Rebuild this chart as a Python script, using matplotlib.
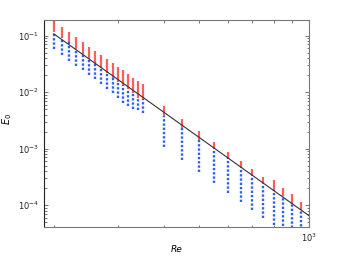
import matplotlib
matplotlib.use("Agg")
import matplotlib.pyplot as plt
from matplotlib.ticker import LogLocator, NullFormatter

# Reynolds numbers of each column of runs
re_vals = [200, 210, 220, 230, 240, 250, 260, 270, 280, 290, 300, 310, 320, 330, 340, 350,
           400, 450, 500, 550, 600, 650, 700, 750, 800, 850, 900, 950]

# top of red range, top of blue range, bottom of blue range
red_top = [0.183, 0.145, 0.118, 0.094, 0.078, 0.064, 0.054, 0.045, 0.0385, 0.0327, 0.0281, 0.0245,
           0.0208, 0.0182, 0.0156, 0.0137, 0.0058, 0.0034, 0.00206, 0.00129, 0.00089, 0.00061,
           0.00043, 0.00031, 0.000274, 0.000205, 0.000157, 0.000116]
blue_top = [0.115, 0.090, 0.076, 0.058, 0.047, 0.0385, 0.0313, 0.0266, 0.0217, 0.0182, 0.0152, 0.0133,
            0.0113, 0.0096, 0.0080, 0.0075, 0.0038, 0.00234, 0.00142, 0.00098, 0.00067, 0.00046,
            0.00033, 0.000237, 0.000189, 0.000144, 0.000105, 0.000082]
blue_bot = [0.058, 0.046, 0.036, 0.029, 0.0245, 0.020, 0.017, 0.0138, 0.0116, 0.0096, 0.0080, 0.0065,
            0.0057, 0.0050, 0.0048, 0.0043, 0.00109, 0.00062, 0.00039, 0.000247, 0.000164, 0.000113,
            0.0000824, 0.0000587, 0.0000447, 0.0000434, 0.00004, 0.00003]

# fitted power law, end points
fit_re = [200, 1000]
fit_e = [0.108, 6.5e-5]

fig = plt.figure(figsize=(3.42, 2.57), dpi=100)
ax = fig.add_axes([0.1287, 0.1167, 0.7748, 0.8055])

ax.vlines(re_vals, blue_top, red_top, colors="#ff4a4a", linewidth=1.6, alpha=0.9)
ax.vlines(re_vals, blue_bot, blue_top, colors="#3060f0", linewidth=1.7,
          linestyles=(0, (1.0, 0.8)))
ax.plot(fit_re, fit_e, color="#333333", linewidth=0.8)

ax.set_xscale("log")
ax.set_yscale("log")
ax.set_xlim(188, 1000)
ax.set_ylim(4.1e-5, 0.19)

ax.xaxis.set_major_locator(LogLocator(base=10))
ax.xaxis.set_minor_locator(LogLocator(base=10, subs=range(2, 10)))
ax.xaxis.set_minor_formatter(NullFormatter())
ax.yaxis.set_minor_formatter(NullFormatter())

ax.tick_params(which="both", direction="in", top=True, right=True,
               labelsize=6, colors="#444444", labelcolor="#222222")
ax.tick_params(which="major", length=3, width=0.5)
ax.tick_params(which="minor", length=1.8, width=0.5)
for side in ["top", "right", "bottom"]:
    ax.spines[side].set_color("#777777")
    ax.spines[side].set_linewidth(0.8)
ax.spines["left"].set_color("#222222")
ax.spines["left"].set_linewidth(0.8)

ax.set_xlabel("Re", fontsize=6.5, style="italic")
ax.xaxis.set_label_coords(0.5, -0.085)
ax.set_ylabel("$E_0$", fontsize=7)
ax.yaxis.set_label_coords(-0.115, 0.52)

fig.savefig("out.png", dpi=100)
